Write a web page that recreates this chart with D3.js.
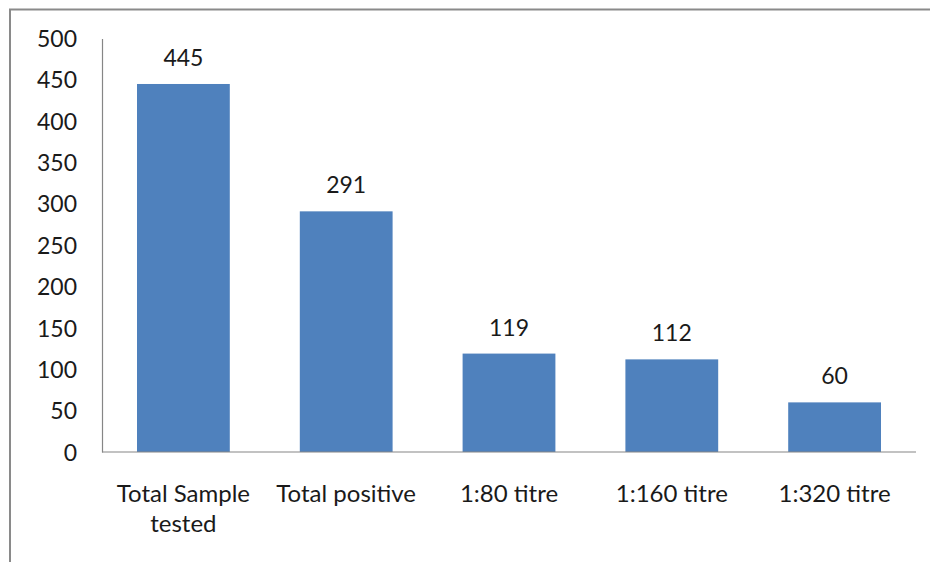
<!DOCTYPE html>
<html>
<head>
<meta charset="utf-8">
<script src="https://cdn.jsdelivr.net/npm/d3@7"></script>
<style>
  body { margin: 0; background: #fff; }
  text { font-family: Lato, "Open Sans", sans-serif; fill: #1a1a1a; }
</style>
</head>
<body>
<div class="container"></div>
<script>
var categories = ['Total Sample tested', 'Total positive', '1:80 titre', '1:160 titre', '1:320 titre'];
var labelLines = [['Total Sample', 'tested'], ['Total positive'], ['1:80 titre'], ['1:160 titre'], ['1:320 titre']];
var values = [445, 291, 119, 112, 60];
var yTicks = [0, 50, 100, 150, 200, 250, 300, 350, 400, 450, 500];

var WIDTH = 930, HEIGHT = 562;
var plot = {left: 102, right: 916, top: 38.5, bottom: 452};

var svg = d3.select('.container').append('svg')
    .attr('width', WIDTH)
    .attr('height', HEIGHT);

// outer frame (only top and left edges visible)
svg.append('path')
    .attr('d', 'M10,' + HEIGHT + 'V9.5H' + WIDTH)
    .attr('fill', 'none')
    .attr('stroke', '#8a8a8a')
    .attr('stroke-width', 2);

var xScale = d3.scaleBand()
    .domain(categories)
    .range([plot.left, plot.right])
    .paddingInner(0.43)
    .paddingOuter(0.215);

var yScale = d3.scaleLinear()
    .domain([0, 500])
    .range([plot.bottom, plot.top]);

// y axis: line plus labels, no tick marks
var yAxis = d3.axisLeft(yScale).tickValues(yTicks).tickSize(0).tickPadding(25);
var yg = svg.append('g').attr('transform', 'translate(' + plot.left + ',0)').call(yAxis);
yg.select('.domain').attr('stroke', '#868686').attr('stroke-width', 1.2);
yg.selectAll('text').style('font-size', '23px').attr('dy', '0.35em');

// bars
svg.selectAll('rect.bar').data(values)
    .enter()
    .append('rect')
    .attr('class', 'bar')
    .attr('x', function(d, i) { return xScale(categories[i]); })
    .attr('y', function(d) { return yScale(d); })
    .attr('width', xScale.bandwidth())
    .attr('height', function(d) { return yScale(0) - yScale(d); })
    .attr('fill', '#4f81bd');

// x axis line
svg.append('line')
    .attr('x1', plot.left).attr('x2', plot.right)
    .attr('y1', plot.bottom).attr('y2', plot.bottom)
    .attr('stroke', '#868686')
    .attr('stroke-width', 1.2);

// value labels
svg.selectAll('text.value').data(values)
    .enter()
    .append('text')
    .attr('class', 'value')
    .attr('x', function(d, i) { return xScale(categories[i]) + xScale.bandwidth() / 2; })
    .attr('y', function(d) { return yScale(d) - 18; })
    .attr('text-anchor', 'middle')
    .style('font-size', '23px')
    .text(function(d) { return d; });

// category labels
var cat = svg.selectAll('text.cat').data(labelLines)
    .enter()
    .append('text')
    .attr('class', 'cat')
    .attr('text-anchor', 'middle')
    .style('font-size', '24px');

cat.selectAll('tspan').data(function(d, i) { return d.map(function(s) { return {s: s, i: i}; }); })
    .enter()
    .append('tspan')
    .attr('x', function(d) { return xScale(categories[d.i]) + xScale.bandwidth() / 2; })
    .attr('y', function(d, j) { return 502 + j * 30; })
    .text(function(d) { return d.s; });
</script>
</body>
</html>
